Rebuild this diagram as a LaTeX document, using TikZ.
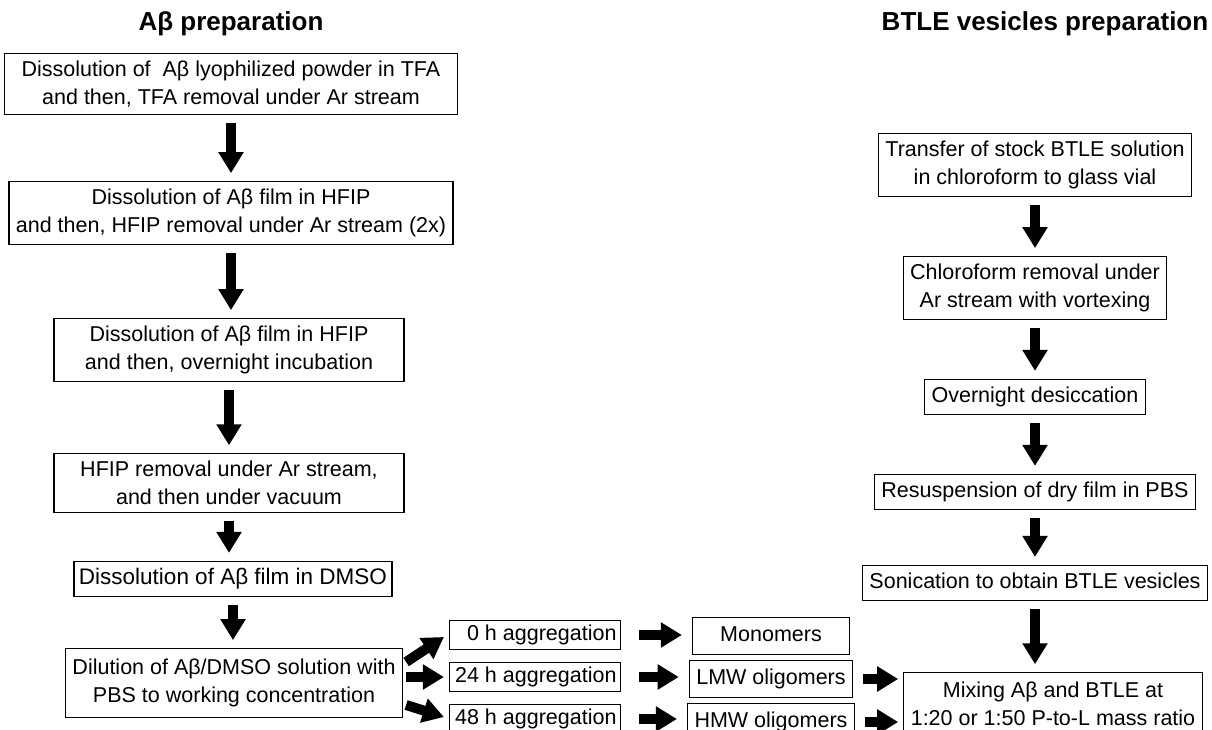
\documentclass[tikz,border=0pt]{standalone}
\usepackage{fontspec}
\setmainfont{Liberation Sans}
\usetikzlibrary{arrows.meta}
\begin{document}
\begin{tikzpicture}[x=1pt,y=-1pt,
  stepbox/.style={draw,line width=1.2pt,align=center,inner xsep=7pt,inner ysep=7pt,
    font=\fontsize{21.5}{28.5}\selectfont},
  oneline/.style={text height=16pt,text depth=5pt},
  aggbox/.style={stepbox,oneline,inner ysep=4pt,inner xsep=4pt,text width=163pt,align=flush right},
  prodbox/.style={stepbox,oneline,minimum width=157pt,inner ysep=8pt},
  heading/.style={font=\bfseries\fontsize{26}{30}\selectfont},
  flow/.style={line width=10pt,-{Triangle[length=21pt,width=24pt]}},
  down/.style={flow,shorten <=8pt,shorten >=8pt}]
  \useasboundingbox (0,0) rectangle (1212,730);
  \clip (0,0) rectangle (1212,730);
  % titles
  \node[heading] (headab) at (231,24) {Aβ preparation};
  \node[heading] (headbtle) at (1045,24) {BTLE vesicles preparation};
  % left column
  \node[stepbox,minimum width=453pt] (tfa) at (231,84)
    {Dissolution of \ Aβ lyophilized powder in TFA\\and then, TFA removal under Ar stream};
  \node[stepbox] (hfipa) at (231,213)
    {Dissolution of Aβ film in HFIP\\and then, HFIP removal under Ar stream (2x)};
  \node[stepbox,minimum width=350pt] (hfipb) at (229,350)
    {Dissolution of Aβ film in HFIP\\and then, overnight incubation};
  \node[stepbox,minimum width=350pt] (vac) at (229,483)
    {HFIP removal under Ar stream,\\and then under vacuum};
  \node[stepbox,oneline,font=\fontsize{22.5}{28.5}\selectfont,inner xsep=5pt] (dmso) at (233,579)
    {Dissolution of Aβ film in DMSO};
  \node[stepbox,inner ysep=10pt] (dil) at (234,683)
    {Dilution of Aβ/DMSO solution with\\PBS to working concentration};
  \draw[down] (tfa) -- (tfa |- hfipa.north);
  \draw[down] (hfipa) -- (hfipa |- hfipb.north);
  \draw[down] (hfipb) -- (hfipb |- vac.north);
  \draw[down] (vac) -- (vac |- dmso.north);
  \draw[down] (dmso) -- (dmso |- dil.north);
  % aggregation
  \node[aggbox] (agg0) at (535,635) {0 h aggregation};
  \node[aggbox] (agg24) at (535,677) {24 h aggregation};
  \node[aggbox] (agg48) at (535,719) {48 h aggregation};
  \node[prodbox] (mono) at (771,636) {Monomers};
  \node[prodbox] (lmw) at (771,679) {LMW oligomers};
  \node[prodbox] (hmw) at (771,722) {HMW oligomers};
  \draw[flow] ([xshift=3pt,yshift=21pt]dil.east) -- ([xshift=-5pt,yshift=-2pt]agg0.west);
  \draw[flow] ([xshift=3pt]dil.east |- agg24.west) -- ([xshift=-5pt]agg24.west);
  \draw[flow] ([xshift=3pt,yshift=-22pt]dil.east) -- ([xshift=-5pt,yshift=2pt]agg48.west);
  \draw[flow,shorten <=18pt,shorten >=10pt] (agg0.east) -- (agg0.east -| mono.west);
  \draw[flow,shorten <=18pt,shorten >=10pt] (agg24.east) -- (agg24.east -| lmw.west);
  \draw[flow,shorten <=18pt,shorten >=10pt] (agg48.east) -- (agg48.east -| hmw.west);
  % right column
  \node[stepbox] (stock) at (1035,165)
    {Transfer of stock BTLE solution\\in chloroform to glass vial};
  \node[stepbox] (chlor) at (1035,288)
    {Chloroform removal under\\Ar stream with vortexing};
  \node[stepbox,oneline] (desic) at (1035,397) {Overnight desiccation};
  \node[stepbox,oneline] (resus) at (1035,492) {Resuspension of dry film in PBS};
  \node[stepbox,oneline] (sonic) at (1035,583) {Sonication to obtain BTLE vesicles};
  \node[stepbox,inner ysep=9pt] (mix) at (1053,704)
    {Mixing Aβ and BTLE at\\1:20 or 1:50 P-to-L mass ratio};
  \draw[down] (stock) -- (chlor);
  \draw[down] (chlor) -- (desic);
  \draw[down] (desic) -- (resus);
  \draw[down] (resus) -- (sonic);
  \draw[down] (sonic.south) -- (sonic.south |- mix.north);
  \draw[flow,shorten <=10pt,shorten >=5pt] (lmw.east) -- (lmw.east -| mix.west);
  \draw[flow,shorten <=10pt,shorten >=5pt] (hmw.east) -- (hmw.east -| mix.west);
\end{tikzpicture}
\end{document}
